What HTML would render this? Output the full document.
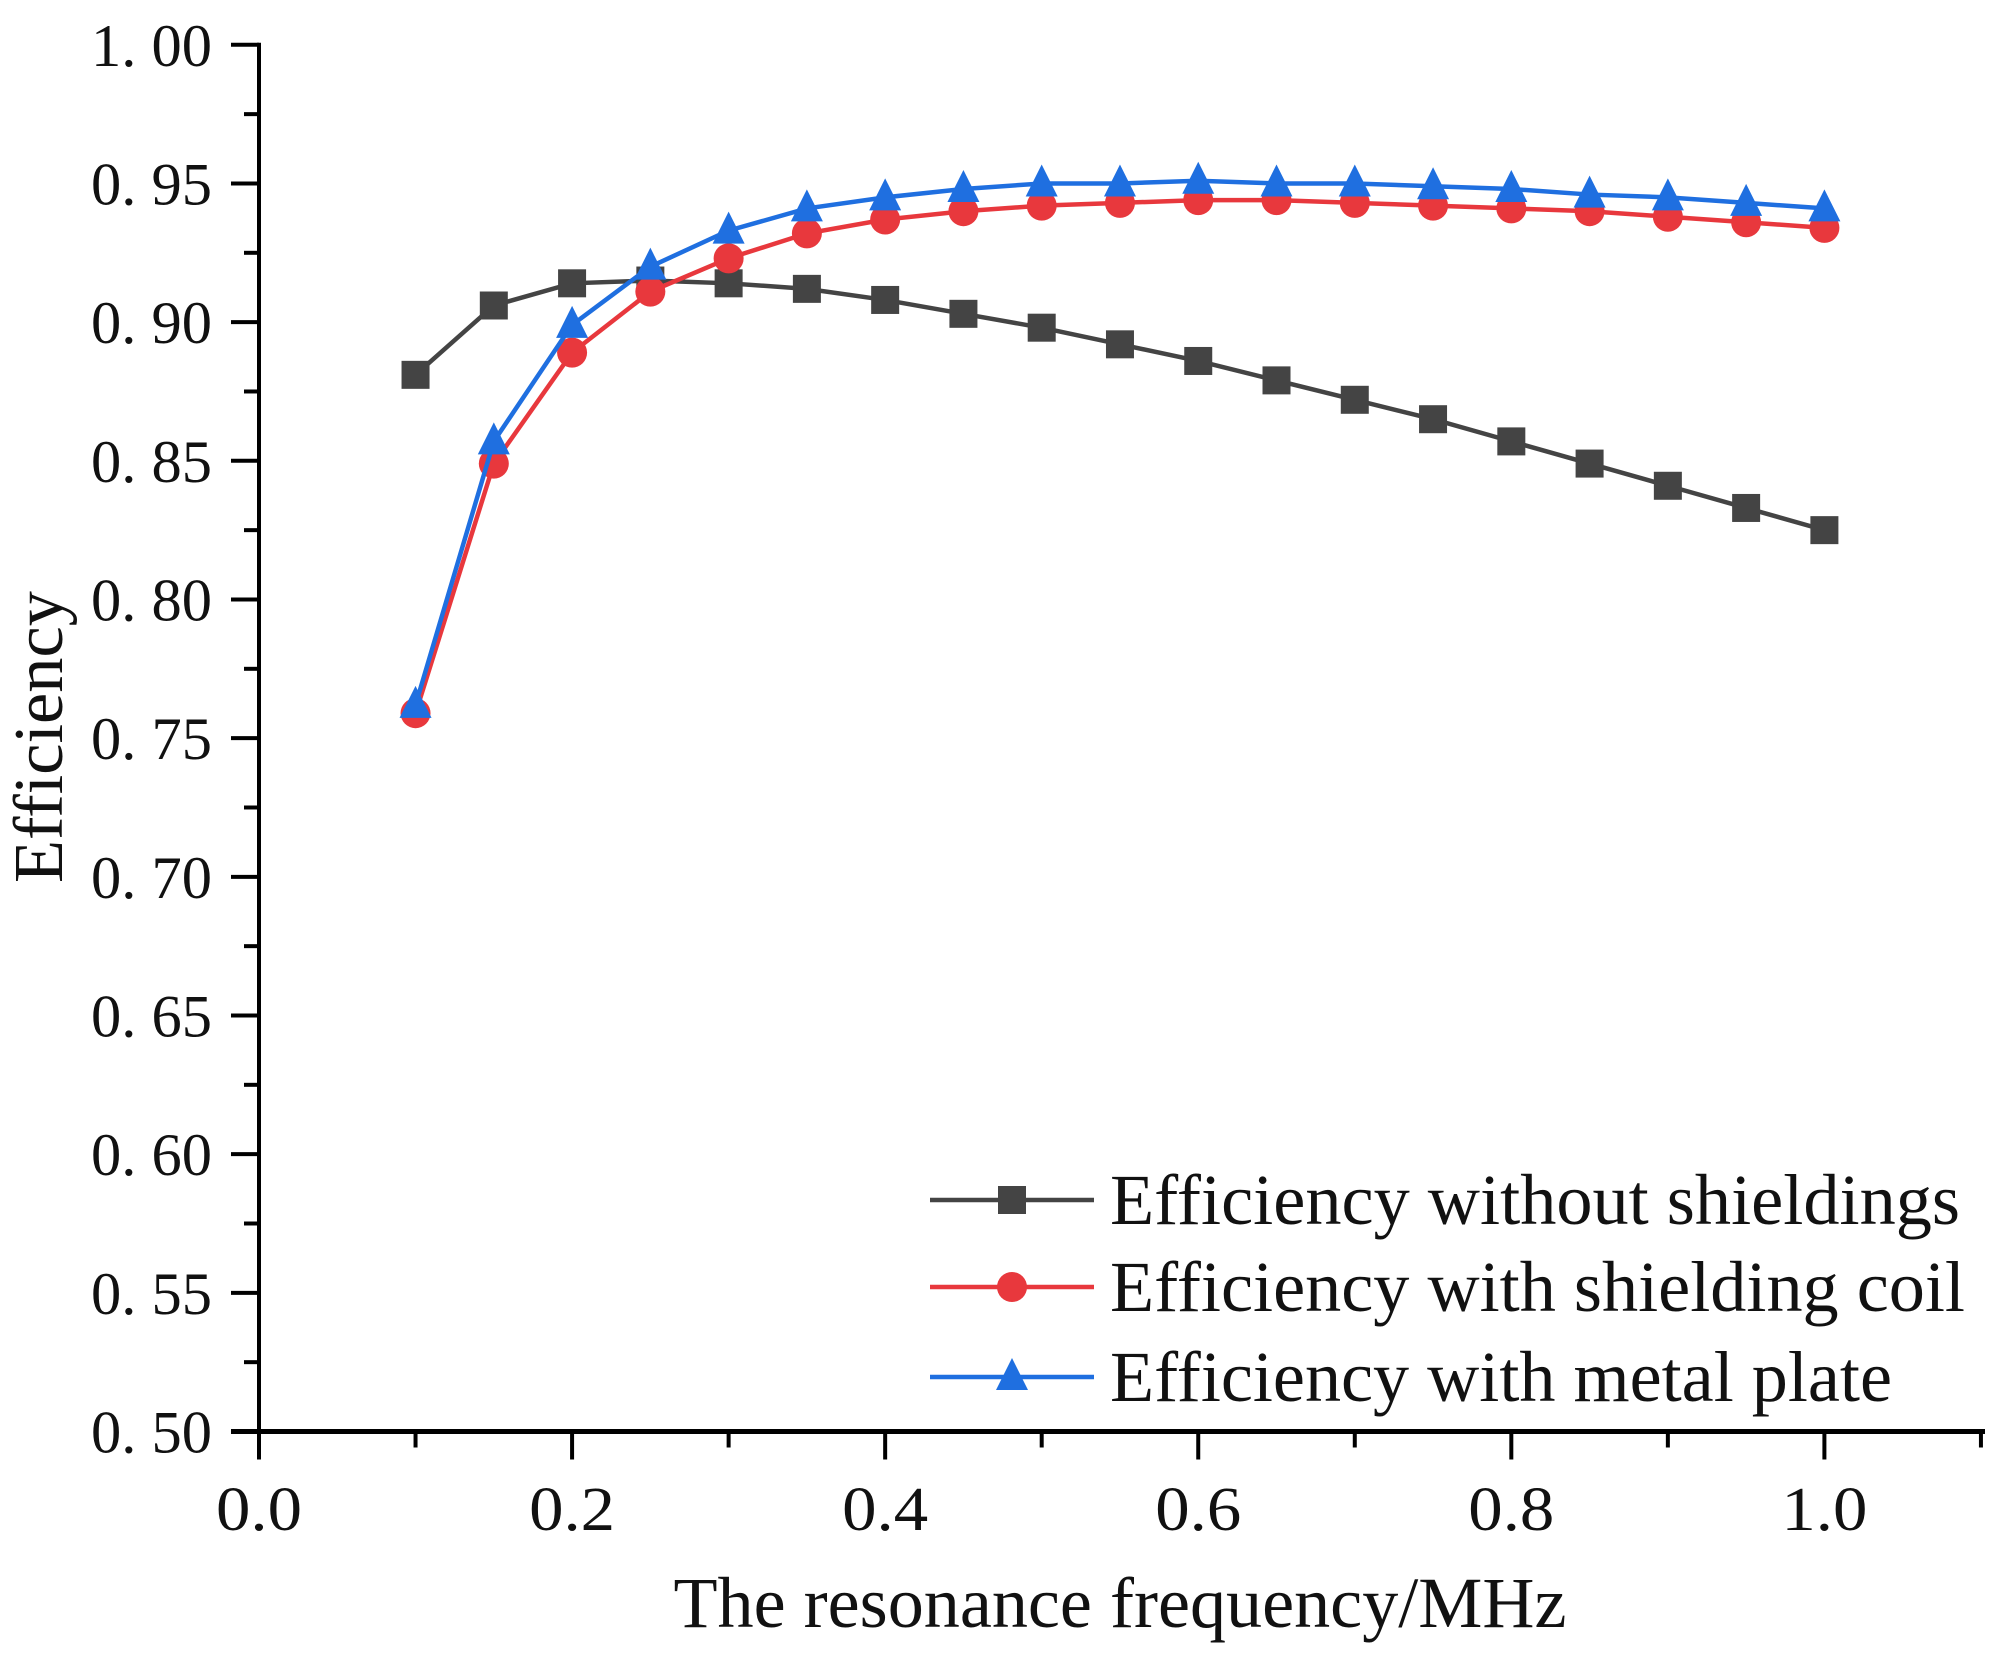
<!DOCTYPE html>
<html><head><meta charset="utf-8"><style>html,body{margin:0;padding:0;background:#fff}svg{display:block}text{font-family:"Liberation Serif","Noto Serif CJK SC",serif;fill:#111}</style></head>
<body>
<svg id="chart" width="2005" height="1653" viewBox="0 0 2005 1653" xmlns="http://www.w3.org/2000/svg">
<g id="axes"></g>
<g id="series"></g>
<g id="legend"></g>
<text transform="translate(62,737) rotate(-90)" text-anchor="middle" font-size="70" textLength="292" lengthAdjust="spacingAndGlyphs">Efficiency</text>
<text x="1120" y="1627" text-anchor="middle" font-size="72" textLength="893" lengthAdjust="spacingAndGlyphs">The resonance frequency/MHz</text>
</svg>
<script>
const freqs=[0.1,0.15,0.2,0.25,0.3,0.35,0.4,0.45,0.5,0.55,0.6,0.65,0.7,0.75,0.8,0.85,0.9,0.95,1.0];
const noShield=[0.881,0.906,0.914,0.915,0.914,0.912,0.908,0.903,0.898,0.892,0.886,0.879,0.872,0.865,0.857,0.849,0.841,0.833,0.825];
const shieldCoil=[0.759,0.849,0.889,0.911,0.923,0.932,0.937,0.940,0.942,0.943,0.944,0.944,0.943,0.942,0.941,0.940,0.938,0.936,0.934];
const metalPlate=[0.762,0.857,0.899,0.920,0.933,0.941,0.945,0.948,0.950,0.950,0.951,0.950,0.950,0.949,0.948,0.946,0.945,0.943,0.941];
const xTicks=[0.0,0.2,0.4,0.6,0.8,1.0];
const xTickLabels=["0.0","0.2","0.4","0.6","0.8","1.0"];
const yTicks=[0.50,0.55,0.60,0.65,0.70,0.75,0.80,0.85,0.90,0.95,1.00];
const yTickLabels=["0. 50","0. 55","0. 60","0. 65","0. 70","0. 75","0. 80","0. 85","0. 90","0. 95","1. 00"];
const legendLabels=["Efficiency without shieldings","Efficiency with shielding coil","Efficiency with metal plate"];

const NS="http://www.w3.org/2000/svg";
const X0=259,XS=1565.4,Y0=1431.5,Y1=44.8;
const sx=v=>X0+v*XS;
const sy=v=>Y0-(v-0.5)/0.5*(Y0-Y1);
function mk(tag,parent,attrs){const e=document.createElementNS(NS,tag);for(const k in attrs)e.setAttribute(k,attrs[k]);parent.appendChild(e);return e;}
const axes=document.getElementById('axes'),ser=document.getElementById('series'),leg=document.getElementById('legend');

let e=mk('line',axes,{x1:X0,y1:Y1-2,x2:X0,y2:Y0+28,stroke:'#000','stroke-width':4});

e=mk('line',axes,{x1:X0-28,y1:Y0,x2:1985,y2:Y0,stroke:'#000','stroke-width':5});

yTicks.forEach((v,i)=>{
  let t=mk('line',axes,{x1:X0-28,y1:sy(v),x2:X0,y2:sy(v),stroke:'#000','stroke-width':4});
  
  if(i<yTicks.length-1){let m=mk('line',axes,{x1:X0-15,y1:sy(v+0.025),x2:X0,y2:sy(v+0.025),stroke:'#000','stroke-width':4});
  }
  let l=mk('text',axes,{x:212,y:sy(v)+21,'text-anchor':'end','font-size':60,textLength:121,lengthAdjust:'spacingAndGlyphs'});l.textContent=yTickLabels[i];
  
});
xTicks.forEach((v,i)=>{
  let t=mk('line',axes,{x1:sx(v),y1:Y0,x2:sx(v),y2:Y0+28,stroke:'#000','stroke-width':4});
  
  let m=mk('line',axes,{x1:sx(v+0.1),y1:Y0,x2:sx(v+0.1),y2:Y0+16,stroke:'#000','stroke-width':4});
  
  let l=mk('text',axes,{x:sx(v),y:1530,'text-anchor':'middle','font-size':62,textLength:86,lengthAdjust:'spacingAndGlyphs'});l.textContent=xTickLabels[i];
  
});
function marker(g,shape,cx,cy,col){
  let m;
  if(shape==='sq')m=mk('rect',g,{x:cx-14,y:cy-14,width:28,height:28,fill:col});
  else if(shape==='ci')m=mk('circle',g,{cx:cx,cy:cy,r:15,fill:col});
  else m=mk('polygon',g,{points:`${cx},${cy-19} ${cx+16},${cy+13} ${cx-16},${cy+13}`,fill:col});
  return m;
}
const S=[[noShield,'#444444','sq','no-shielding'],[shieldCoil,'#e8383d','ci','shielding-coil'],[metalPlate,'#1f6fe0','tr','metal-plate']];
S.forEach(([vals,col,shape,name])=>{
  const g=mk('g',ser,{});
  
  const p=mk('polyline',g,{points:vals.map((v,i)=>sx(freqs[i])+','+sy(v)).join(' '),fill:'none',stroke:col,'stroke-width':4.5});
  
  vals.forEach((v,i)=>{const m=marker(g,shape,sx(freqs[i]),sy(v),col);
    });
});
const ly=[1200,1287,1377];
const lw=[850,855,782];
S.forEach(([vals,col,shape,name],i)=>{
  const g=mk('g',leg,{});
  
  mk('line',g,{x1:930,y1:ly[i],x2:1094,y2:ly[i],stroke:col,'stroke-width':4.5});
  marker(g,shape,1012,ly[i],col);
  const t=mk('text',g,{x:1110,y:ly[i]+24,'font-size':72,textLength:lw[i],lengthAdjust:'spacingAndGlyphs'});t.textContent=legendLabels[i];
  
});
</script>
</body></html>
